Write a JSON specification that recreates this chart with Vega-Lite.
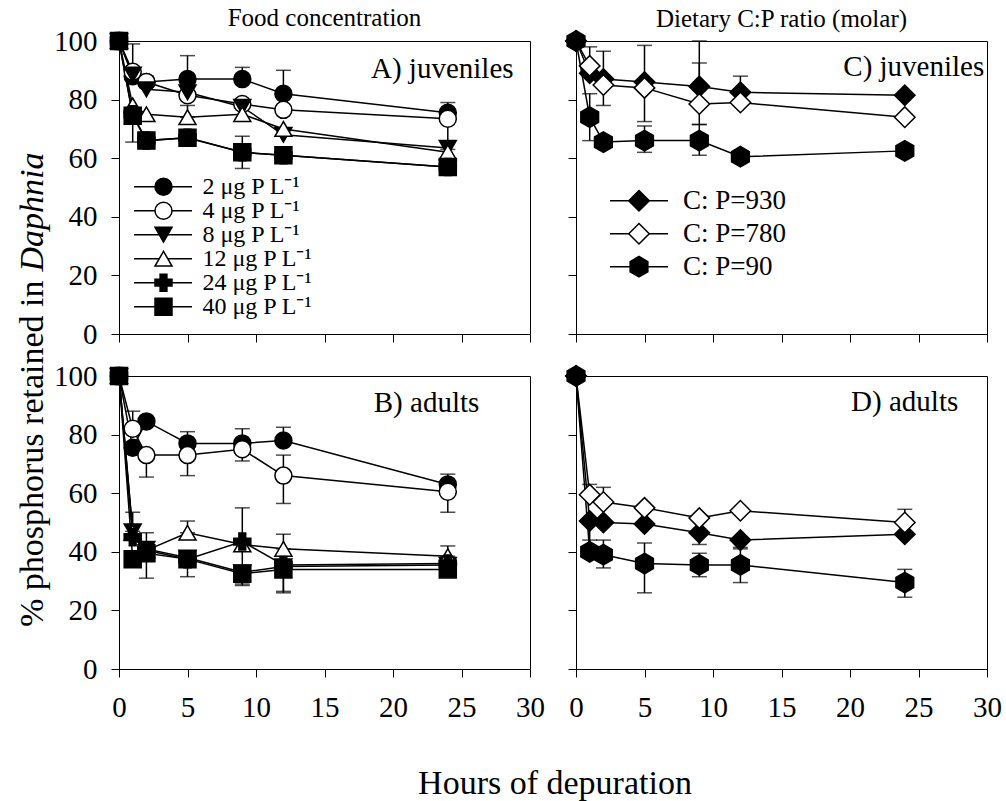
{
"$schema": "https://vega.github.io/schema/vega-lite/v6.json",
"padding": {"left": 14, "top": 5, "right": 5, "bottom": 5},
"config": {
 "font": "Liberation Serif",
 "view": {"stroke": "black", "strokeWidth": 1},
 "axis": {"domainColor": "black", "tickColor": "black", "labelColor": "black", "titleColor": "black", "labelFont": "Liberation Serif", "titleFont": "Liberation Serif", "labelFontSize": 29, "titleFontSize": 34, "titleFontWeight": "normal", "tickSize": 8, "labelPadding": 14, "grid": false, "labelFlush": false, "labelOverlap": false, "domainWidth": 1, "tickWidth": 1},
 "legend": {"labelFont": "Liberation Serif", "labelColor": "black", "title": null, "padding": 0, "rowPadding": 0, "labelLimit": 0},
 "title": {"font": "Liberation Serif", "fontSize": 25, "fontWeight": "normal", "color": "black"}
},
"datasets": {"d": [
 {"p":"A","s":"2 μg P L⁻¹","t":0,"v":100},{"p":"A","s":"2 μg P L⁻¹","t":1,"v":88},{"p":"A","s":"2 μg P L⁻¹","t":2,"v":86},{"p":"A","s":"2 μg P L⁻¹","t":5,"v":87,"lo":87,"hi":95},{"p":"A","s":"2 μg P L⁻¹","t":9,"v":87,"lo":87,"hi":91},{"p":"A","s":"2 μg P L⁻¹","t":12,"v":82,"lo":82,"hi":90},{"p":"A","s":"2 μg P L⁻¹","t":24,"v":75.5,"lo":75.5,"hi":79},
 {"p":"A","s":"4 μg P L⁻¹","t":0,"v":100},{"p":"A","s":"4 μg P L⁻¹","t":1,"v":89.5,"lo":89.5,"hi":99},{"p":"A","s":"4 μg P L⁻¹","t":2,"v":86,"lo":86,"hi":88},{"p":"A","s":"4 μg P L⁻¹","t":5,"v":81.5},{"p":"A","s":"4 μg P L⁻¹","t":9,"v":78.5},{"p":"A","s":"4 μg P L⁻¹","t":12,"v":76.5},{"p":"A","s":"4 μg P L⁻¹","t":24,"v":73.5,"lo":63,"hi":73.5},
 {"p":"A","s":"8 μg P L⁻¹","t":0,"v":100},{"p":"A","s":"8 μg P L⁻¹","t":1,"v":88.5},{"p":"A","s":"8 μg P L⁻¹","t":2,"v":83.5},{"p":"A","s":"8 μg P L⁻¹","t":5,"v":82.5},{"p":"A","s":"8 μg P L⁻¹","t":9,"v":77.5},{"p":"A","s":"8 μg P L⁻¹","t":12,"v":68},{"p":"A","s":"8 μg P L⁻¹","t":24,"v":63.5},
 {"p":"A","s":"12 μg P L⁻¹","t":0,"v":100},{"p":"A","s":"12 μg P L⁻¹","t":1,"v":78},{"p":"A","s":"12 μg P L⁻¹","t":2,"v":75},{"p":"A","s":"12 μg P L⁻¹","t":5,"v":74,"lo":74,"hi":78},{"p":"A","s":"12 μg P L⁻¹","t":9,"v":75},{"p":"A","s":"12 μg P L⁻¹","t":12,"v":70},{"p":"A","s":"12 μg P L⁻¹","t":24,"v":62},
 {"p":"A","s":"24 μg P L⁻¹","t":0,"v":100},{"p":"A","s":"24 μg P L⁻¹","t":1,"v":75},{"p":"A","s":"24 μg P L⁻¹","t":2,"v":66},{"p":"A","s":"24 μg P L⁻¹","t":5,"v":67},{"p":"A","s":"24 μg P L⁻¹","t":9,"v":62},{"p":"A","s":"24 μg P L⁻¹","t":12,"v":61},{"p":"A","s":"24 μg P L⁻¹","t":24,"v":57},
 {"p":"A","s":"40 μg P L⁻¹","t":0,"v":100},{"p":"A","s":"40 μg P L⁻¹","t":1,"v":74.5,"lo":65.5,"hi":74.5},{"p":"A","s":"40 μg P L⁻¹","t":2,"v":66},{"p":"A","s":"40 μg P L⁻¹","t":5,"v":67},{"p":"A","s":"40 μg P L⁻¹","t":9,"v":62,"lo":56.5,"hi":67.5},{"p":"A","s":"40 μg P L⁻¹","t":12,"v":61},{"p":"A","s":"40 μg P L⁻¹","t":24,"v":57},
 {"p":"B","s":"2 μg P L⁻¹","t":0,"v":100},{"p":"B","s":"2 μg P L⁻¹","t":1,"v":75.5},{"p":"B","s":"2 μg P L⁻¹","t":2,"v":84.5},{"p":"B","s":"2 μg P L⁻¹","t":5,"v":77,"lo":77,"hi":81},{"p":"B","s":"2 μg P L⁻¹","t":9,"v":77,"lo":77,"hi":82},{"p":"B","s":"2 μg P L⁻¹","t":12,"v":78,"lo":78,"hi":82.5},{"p":"B","s":"2 μg P L⁻¹","t":24,"v":63,"lo":63,"hi":66.5},
 {"p":"B","s":"4 μg P L⁻¹","t":0,"v":100},{"p":"B","s":"4 μg P L⁻¹","t":1,"v":82,"lo":82,"hi":88},{"p":"B","s":"4 μg P L⁻¹","t":2,"v":73,"lo":65.5,"hi":73},{"p":"B","s":"4 μg P L⁻¹","t":5,"v":73,"lo":66,"hi":73},{"p":"B","s":"4 μg P L⁻¹","t":9,"v":75,"lo":71,"hi":75},{"p":"B","s":"4 μg P L⁻¹","t":12,"v":66,"lo":56.5,"hi":73},{"p":"B","s":"4 μg P L⁻¹","t":24,"v":60.5,"lo":53.5,"hi":60.5},
 {"p":"B","s":"8 μg P L⁻¹","t":0,"v":100},{"p":"B","s":"8 μg P L⁻¹","t":1,"v":47,"lo":47,"hi":53.5},{"p":"B","s":"8 μg P L⁻¹","t":2,"v":41},{"p":"B","s":"8 μg P L⁻¹","t":5,"v":38},{"p":"B","s":"8 μg P L⁻¹","t":9,"v":33},{"p":"B","s":"8 μg P L⁻¹","t":12,"v":35},{"p":"B","s":"8 μg P L⁻¹","t":24,"v":35.5},
 {"p":"B","s":"12 μg P L⁻¹","t":0,"v":100},{"p":"B","s":"12 μg P L⁻¹","t":1,"v":46.5},{"p":"B","s":"12 μg P L⁻¹","t":2,"v":40.5},{"p":"B","s":"12 μg P L⁻¹","t":5,"v":46.5,"lo":46.5,"hi":50.5},{"p":"B","s":"12 μg P L⁻¹","t":9,"v":42.5},{"p":"B","s":"12 μg P L⁻¹","t":12,"v":41,"lo":41,"hi":46},{"p":"B","s":"12 μg P L⁻¹","t":24,"v":38.5,"lo":38.5,"hi":42},
 {"p":"B","s":"24 μg P L⁻¹","t":0,"v":100},{"p":"B","s":"24 μg P L⁻¹","t":1,"v":45},{"p":"B","s":"24 μg P L⁻¹","t":2,"v":40.5,"lo":31,"hi":46.5},{"p":"B","s":"24 μg P L⁻¹","t":5,"v":37.5,"lo":31.5,"hi":37.5},{"p":"B","s":"24 μg P L⁻¹","t":9,"v":43.5,"lo":28.5,"hi":55},{"p":"B","s":"24 μg P L⁻¹","t":12,"v":35.5,"lo":26.5,"hi":35.5},{"p":"B","s":"24 μg P L⁻¹","t":24,"v":36},
 {"p":"B","s":"40 μg P L⁻¹","t":0,"v":100},{"p":"B","s":"40 μg P L⁻¹","t":1,"v":37.5},{"p":"B","s":"40 μg P L⁻¹","t":2,"v":39.5},{"p":"B","s":"40 μg P L⁻¹","t":5,"v":37.5},{"p":"B","s":"40 μg P L⁻¹","t":9,"v":32.5,"lo":29,"hi":32.5},{"p":"B","s":"40 μg P L⁻¹","t":12,"v":34,"lo":26,"hi":34},{"p":"B","s":"40 μg P L⁻¹","t":24,"v":34},
 {"p":"C","s":"C: P=930","t":0,"v":100},{"p":"C","s":"C: P=930","t":1,"v":89},{"p":"C","s":"C: P=930","t":2,"v":87,"lo":87,"hi":96.5},{"p":"C","s":"C: P=930","t":5,"v":86,"lo":86,"hi":98.5},{"p":"C","s":"C: P=930","t":9,"v":84.5,"lo":84.5,"hi":100},{"p":"C","s":"C: P=930","t":12,"v":82.5,"lo":82.5,"hi":88},{"p":"C","s":"C: P=930","t":24,"v":81.5},
 {"p":"C","s":"C: P=780","t":0,"v":100},{"p":"C","s":"C: P=780","t":1,"v":91.5,"lo":91.5,"hi":98},{"p":"C","s":"C: P=780","t":2,"v":85,"lo":78,"hi":85},{"p":"C","s":"C: P=780","t":5,"v":84,"lo":72.5,"hi":84},{"p":"C","s":"C: P=780","t":9,"v":78.5,"lo":71.5,"hi":92.5},{"p":"C","s":"C: P=780","t":12,"v":79},{"p":"C","s":"C: P=780","t":24,"v":74},
 {"p":"C","s":"C: P=90","t":0,"v":100},{"p":"C","s":"C: P=90","t":1,"v":74,"lo":66,"hi":82},{"p":"C","s":"C: P=90","t":2,"v":65.5},{"p":"C","s":"C: P=90","t":5,"v":66,"lo":62,"hi":71},{"p":"C","s":"C: P=90","t":9,"v":66,"lo":61,"hi":71.5},{"p":"C","s":"C: P=90","t":12,"v":60.5},{"p":"C","s":"C: P=90","t":24,"v":62.5},
 {"p":"D","s":"C: P=930","t":0,"v":100},{"p":"D","s":"C: P=930","t":1,"v":50.5,"lo":41,"hi":50.5},{"p":"D","s":"C: P=930","t":2,"v":50},{"p":"D","s":"C: P=930","t":5,"v":49.5},{"p":"D","s":"C: P=930","t":9,"v":46.5,"lo":42.5,"hi":46.5},{"p":"D","s":"C: P=930","t":12,"v":44,"lo":41.5,"hi":44},{"p":"D","s":"C: P=930","t":24,"v":46},
 {"p":"D","s":"C: P=780","t":0,"v":100},{"p":"D","s":"C: P=780","t":1,"v":59.5,"lo":59.5,"hi":63},{"p":"D","s":"C: P=780","t":2,"v":57,"lo":57,"hi":62},{"p":"D","s":"C: P=780","t":5,"v":55},{"p":"D","s":"C: P=780","t":9,"v":51.5},{"p":"D","s":"C: P=780","t":12,"v":54},{"p":"D","s":"C: P=780","t":24,"v":50,"lo":50,"hi":54.5},
 {"p":"D","s":"C: P=90","t":0,"v":100},{"p":"D","s":"C: P=90","t":1,"v":40,"lo":40,"hi":44},{"p":"D","s":"C: P=90","t":2,"v":39,"lo":34.5,"hi":44},{"p":"D","s":"C: P=90","t":5,"v":36,"lo":26,"hi":43},{"p":"D","s":"C: P=90","t":9,"v":35.5,"lo":31.5,"hi":39.5},{"p":"D","s":"C: P=90","t":12,"v":35.5,"lo":29.5,"hi":41},{"p":"D","s":"C: P=90","t":24,"v":29.5,"lo":24.5,"hi":34}
]},
"columns": 2,
"spacing": {"row": 42, "column": 46},
"bounds": "flush",
"resolve": {"scale": {"x": "independent", "y": "independent", "shape": "independent", "fill": "independent", "color": "independent"}, "legend": {"shape": "independent", "fill": "independent", "color": "independent"}},
"concat": [
 {
  "width": 411, "height": 293,
  "title": {"text": "Food concentration", "offset": -4},
  "layer": [
   {"data": {"name": "d"}, "transform": [{"filter": "datum.p == 'A' && isValid(datum.lo)"}],
    "mark": {"type": "errorbar", "ticks": {"size": 15, "thickness": 1.5, "color": "black"}, "rule": {"strokeWidth": 1.5, "color": "black"}},
    "encoding": {"x": {"field": "t", "type": "quantitative", "scale": {"domain": [0, 30], "nice": false}, "axis": {"values": [0,5,10,15,20,25,30], "labels": false, "title": null}},
     "y": {"field": "lo", "type": "quantitative", "scale": {"domain": [0, 100], "nice": false}, "axis": {"values": [0,20,40,60,80,100], "title": "% phosphorus retained in", "titleY": 239, "titleAlign": "right", "titleAngle": 270}},
     "y2": {"field": "hi"}}},
   {"data": {"name": "d"}, "transform": [{"filter": "datum.p == 'A'"}],
    "mark": {"type": "line", "strokeWidth": 1.5},
    "encoding": {"x": {"field": "t", "type": "quantitative"}, "y": {"field": "v", "type": "quantitative"},
     "color": {"field": "s", "type": "nominal", "sort": ["2 μg P L⁻¹","4 μg P L⁻¹","8 μg P L⁻¹","12 μg P L⁻¹","24 μg P L⁻¹","40 μg P L⁻¹"], "scale": {"range": ["black","black","black","black","black","black"]},
      "legend": {"orient": "none", "legendX": 14, "legendY": 133.7, "symbolType": "stroke", "symbolSize": 3364, "symbolStrokeWidth": 1.5, "symbolStrokeColor": "black", "labelExpr": "''", "clipHeight": 24}}}},
   {"data": {"name": "d"}, "transform": [{"filter": "datum.p == 'A'"}],
    "mark": {"type": "point", "filled": true, "stroke": "black", "strokeWidth": 1.5, "size": 289, "opacity": 1},
    "encoding": {"x": {"field": "t", "type": "quantitative"}, "y": {"field": "v", "type": "quantitative"},
     "shape": {"field": "s", "type": "nominal", "scale": {"domain": ["2 μg P L⁻¹","4 μg P L⁻¹","8 μg P L⁻¹","12 μg P L⁻¹","24 μg P L⁻¹","40 μg P L⁻¹"], "range": ["circle","circle","triangle-down","triangle-up","cross","square"]},
      "legend": {"orient": "none", "legendX": 32.5, "legendY": 133.7, "symbolSize": 289, "symbolStrokeWidth": 1.5, "labelFontSize": 24, "labelOffset": 27, "clipHeight": 24, "encode": {"symbols": {"stroke": {"value": "black"}, "strokeWidth": {"value": 1.5}}}}},
     "fill": {"field": "s", "type": "nominal", "scale": {"domain": ["2 μg P L⁻¹","4 μg P L⁻¹","8 μg P L⁻¹","12 μg P L⁻¹","24 μg P L⁻¹","40 μg P L⁻¹"], "range": ["black","white","black","white","black","black"]},
      "legend": {"orient": "none", "legendX": 32.5, "legendY": 133.7, "symbolSize": 289, "symbolStrokeWidth": 1.5, "labelFontSize": 24, "labelOffset": 27, "clipHeight": 24, "encode": {"symbols": {"stroke": {"value": "black"}, "strokeWidth": {"value": 1.5}}}}}}},
   {"data": {"values": [{"label": "A) juveniles"}]},
    "mark": {"type": "text", "align": "right", "baseline": "middle", "fontSize": 29, "font": "Liberation Serif", "color": "black"},
    "encoding": {"x": {"datum": 28.8, "type": "quantitative"}, "y": {"datum": 90.5, "type": "quantitative"}, "text": {"field": "label"}}}
  ]
 },
 {
  "width": 411, "height": 293,
  "title": {"text": "Dietary C:P ratio (molar)", "offset": -4},
  "layer": [
   {"data": {"name": "d"}, "transform": [{"filter": "datum.p == 'C' && isValid(datum.lo)"}],
    "mark": {"type": "errorbar", "ticks": {"size": 15, "thickness": 1.5, "color": "black"}, "rule": {"strokeWidth": 1.5, "color": "black"}},
    "encoding": {"x": {"field": "t", "type": "quantitative", "scale": {"domain": [0, 30], "nice": false}, "axis": {"values": [0,5,10,15,20,25,30], "labels": false, "title": null}},
     "y": {"field": "lo", "type": "quantitative", "scale": {"domain": [0, 100], "nice": false}, "axis": {"values": [0,20,40,60,80,100], "labels": false, "title": null}},
     "y2": {"field": "hi"}}},
   {"data": {"name": "d"}, "transform": [{"filter": "datum.p == 'C'"}],
    "mark": {"type": "line", "strokeWidth": 1.5},
    "encoding": {"x": {"field": "t", "type": "quantitative"}, "y": {"field": "v", "type": "quantitative"},
     "color": {"field": "s", "type": "nominal", "sort": ["C: P=930","C: P=780","C: P=90"], "scale": {"range": ["black","black","black"]},
      "legend": {"orient": "none", "legendX": 33, "legendY": 143.2, "symbolType": "stroke", "symbolSize": 3364, "symbolStrokeWidth": 1.5, "symbolStrokeColor": "black", "labelExpr": "''", "clipHeight": 33}}}},
   {"data": {"name": "d"}, "transform": [{"filter": "datum.p == 'C'"}],
    "mark": {"type": "point", "filled": true, "stroke": "black", "strokeWidth": 1.5, "size": 420, "opacity": 1},
    "encoding": {"x": {"field": "t", "type": "quantitative"}, "y": {"field": "v", "type": "quantitative"},
     "shape": {"field": "s", "type": "nominal", "scale": {"domain": ["C: P=930","C: P=780","C: P=90"], "range": ["diamond","diamond","M0,-1L0.866,-0.5L0.866,0.5L0,1L-0.866,0.5L-0.866,-0.5Z"]},
      "legend": {"orient": "none", "legendX": 49.5, "legendY": 143.2, "symbolSize": 420, "symbolStrokeWidth": 1.5, "labelFontSize": 27, "labelOffset": 30.5, "clipHeight": 33, "encode": {"symbols": {"stroke": {"value": "black"}, "strokeWidth": {"value": 1.5}}}}},
     "fill": {"field": "s", "type": "nominal", "scale": {"domain": ["C: P=930","C: P=780","C: P=90"], "range": ["black","white","black"]},
      "legend": {"orient": "none", "legendX": 49.5, "legendY": 143.2, "symbolSize": 420, "symbolStrokeWidth": 1.5, "labelFontSize": 27, "labelOffset": 30.5, "clipHeight": 33, "encode": {"symbols": {"stroke": {"value": "black"}, "strokeWidth": {"value": 1.5}}}}}}},
   {"data": {"values": [{"label": "C) juveniles"}]},
    "mark": {"type": "text", "align": "right", "baseline": "middle", "fontSize": 29, "font": "Liberation Serif", "color": "black"},
    "encoding": {"x": {"datum": 29.8, "type": "quantitative"}, "y": {"datum": 91, "type": "quantitative"}, "text": {"field": "label"}}}
  ]
 },
 {
  "width": 411, "height": 293,
  "layer": [
   {"data": {"name": "d"}, "transform": [{"filter": "datum.p == 'B' && isValid(datum.lo)"}],
    "mark": {"type": "errorbar", "ticks": {"size": 15, "thickness": 1.5, "color": "black"}, "rule": {"strokeWidth": 1.5, "color": "black"}},
    "encoding": {"x": {"field": "t", "type": "quantitative", "scale": {"domain": [0, 30], "nice": false}, "axis": {"values": [0,5,10,15,20,25,30], "title": "Hours of depuration", "titleX": 435.5, "titleY": 124, "titleBaseline": "alphabetic", "titleAlign": "center", "labelPadding": 16}},
     "y": {"field": "lo", "type": "quantitative", "scale": {"domain": [0, 100], "nice": false}, "axis": {"values": [0,20,40,60,80,100], "title": "Daphnia", "titleFontStyle": "italic", "titleY": -105, "titleAlign": "left", "titleAngle": 270}},
     "y2": {"field": "hi"}}},
   {"data": {"name": "d"}, "transform": [{"filter": "datum.p == 'B'"}],
    "mark": {"type": "line", "strokeWidth": 1.5, "color": "black"},
    "encoding": {"x": {"field": "t", "type": "quantitative"}, "y": {"field": "v", "type": "quantitative"}, "detail": {"field": "s"}}},
   {"data": {"name": "d"}, "transform": [{"filter": "datum.p == 'B'"}],
    "mark": {"type": "point", "filled": true, "stroke": "black", "strokeWidth": 1.5, "size": 289, "opacity": 1},
    "encoding": {"x": {"field": "t", "type": "quantitative"}, "y": {"field": "v", "type": "quantitative"},
     "shape": {"field": "s", "type": "nominal", "scale": {"domain": ["2 μg P L⁻¹","4 μg P L⁻¹","8 μg P L⁻¹","12 μg P L⁻¹","24 μg P L⁻¹","40 μg P L⁻¹"], "range": ["circle","circle","triangle-down","triangle-up","cross","square"]}, "legend": null},
     "fill": {"field": "s", "type": "nominal", "scale": {"domain": ["2 μg P L⁻¹","4 μg P L⁻¹","8 μg P L⁻¹","12 μg P L⁻¹","24 μg P L⁻¹","40 μg P L⁻¹"], "range": ["black","white","black","white","black","black"]}, "legend": null}}},
   {"data": {"values": [{"label": "B) adults"}]},
    "mark": {"type": "text", "align": "right", "baseline": "middle", "fontSize": 29, "font": "Liberation Serif", "color": "black"},
    "encoding": {"x": {"datum": 26.3, "type": "quantitative"}, "y": {"datum": 90.8, "type": "quantitative"}, "text": {"field": "label"}}}
  ]
 },
 {
  "width": 411, "height": 293,
  "layer": [
   {"data": {"name": "d"}, "transform": [{"filter": "datum.p == 'D' && isValid(datum.lo)"}],
    "mark": {"type": "errorbar", "ticks": {"size": 15, "thickness": 1.5, "color": "black"}, "rule": {"strokeWidth": 1.5, "color": "black"}},
    "encoding": {"x": {"field": "t", "type": "quantitative", "scale": {"domain": [0, 30], "nice": false}, "axis": {"values": [0,5,10,15,20,25,30], "title": null, "labelPadding": 16}},
     "y": {"field": "lo", "type": "quantitative", "scale": {"domain": [0, 100], "nice": false}, "axis": {"values": [0,20,40,60,80,100], "labels": false, "title": null}},
     "y2": {"field": "hi"}}},
   {"data": {"name": "d"}, "transform": [{"filter": "datum.p == 'D'"}],
    "mark": {"type": "line", "strokeWidth": 1.5, "color": "black"},
    "encoding": {"x": {"field": "t", "type": "quantitative"}, "y": {"field": "v", "type": "quantitative"}, "detail": {"field": "s"}}},
   {"data": {"name": "d"}, "transform": [{"filter": "datum.p == 'D'"}],
    "mark": {"type": "point", "filled": true, "stroke": "black", "strokeWidth": 1.5, "size": 420, "opacity": 1},
    "encoding": {"x": {"field": "t", "type": "quantitative"}, "y": {"field": "v", "type": "quantitative"},
     "shape": {"field": "s", "type": "nominal", "scale": {"domain": ["C: P=930","C: P=780","C: P=90"], "range": ["diamond","diamond","M0,-1L0.866,-0.5L0.866,0.5L0,1L-0.866,0.5L-0.866,-0.5Z"]}, "legend": null},
     "fill": {"field": "s", "type": "nominal", "scale": {"domain": ["C: P=930","C: P=780","C: P=90"], "range": ["black","white","black"]}, "legend": null}}},
   {"data": {"values": [{"label": "D) adults"}]},
    "mark": {"type": "text", "align": "right", "baseline": "middle", "fontSize": 29, "font": "Liberation Serif", "color": "black"},
    "encoding": {"x": {"datum": 27.9, "type": "quantitative"}, "y": {"datum": 91.2, "type": "quantitative"}, "text": {"field": "label"}}}
  ]
 }
]
}
